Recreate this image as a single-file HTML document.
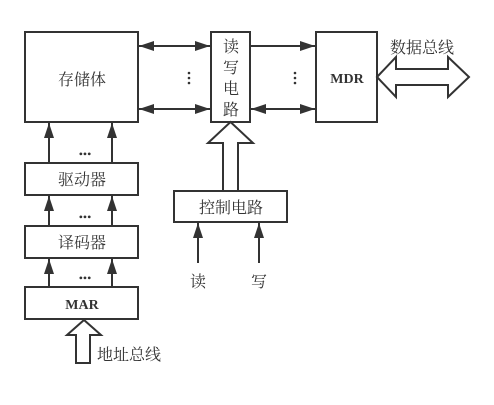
<!DOCTYPE html>
<html><head><meta charset="utf-8"><style>
body{margin:0;background:#fff;}
svg text{font-family:"Liberation Serif","Noto Serif CJK SC",serif;fill:#333;}
</style></head><body>
<svg width="494" height="400" viewBox="0 0 494 400" xmlns="http://www.w3.org/2000/svg">
<defs>
<marker id="a" viewBox="0 0 15 10" refX="15" refY="5" markerWidth="15" markerHeight="10" markerUnits="userSpaceOnUse" orient="auto-start-reverse"><path d="M0,0L15,5L0,10z" fill="#333"/></marker>
</defs>
<g fill="none" stroke="#333" stroke-width="2">
<rect x="25" y="32" width="113" height="90"/>
<rect x="211" y="32" width="39" height="90"/>
<rect x="316" y="32" width="61" height="90"/>
<rect x="25" y="163" width="113" height="32"/>
<rect x="25" y="226" width="113" height="32"/>
<rect x="25" y="287" width="113" height="32"/>
<rect x="174" y="191" width="113" height="31"/>
<line x1="139" y1="46" x2="210" y2="46" marker-start="url(#a)" marker-end="url(#a)"/>
<line x1="139" y1="109" x2="210" y2="109" marker-start="url(#a)" marker-end="url(#a)"/>
<line x1="251" y1="46" x2="315" y2="46" marker-end="url(#a)"/>
<line x1="251" y1="109" x2="315" y2="109" marker-start="url(#a)" marker-end="url(#a)"/>
<line x1="49" y1="163" x2="49" y2="123" marker-end="url(#a)"/>
<line x1="112" y1="163" x2="112" y2="123" marker-end="url(#a)"/>
<line x1="49" y1="226" x2="49" y2="196" marker-end="url(#a)"/>
<line x1="112" y1="226" x2="112" y2="196" marker-end="url(#a)"/>
<line x1="49" y1="287" x2="49" y2="259" marker-end="url(#a)"/>
<line x1="112" y1="287" x2="112" y2="259" marker-end="url(#a)"/>
<line x1="198" y1="263" x2="198" y2="223" marker-end="url(#a)"/>
<line x1="259" y1="263" x2="259" y2="223" marker-end="url(#a)"/>
<path d="M223,191V143H208L230.5,122L253,143H238V191"/>
<path d="M76,363V335H67L84,320L101,335H90V363Z"/>
<path d="M377,77L396,57V69H448V57L469,77L448,97V85H396V97Z"/>
</g>
<g fill="#333">
<circle cx="189" cy="73" r="1.3"/><circle cx="189" cy="78" r="1.3"/><circle cx="189" cy="83" r="1.3"/>
<circle cx="295" cy="73" r="1.3"/><circle cx="295" cy="78" r="1.3"/><circle cx="295" cy="83" r="1.3"/>
</g>
<g font-size="16" text-anchor="middle">
<text x="82" y="85">存储体</text>
<text x="231" y="52">读</text>
<text x="231" y="73">写</text>
<text x="231" y="94">电</text>
<text x="231" y="115">路</text>
<text x="347" y="83" font-weight="bold" font-size="14">MDR</text>
<text x="422" y="53">数据总线</text>
<text x="82" y="185">驱动器</text>
<text x="82" y="248">译码器</text>
<text x="82" y="309" font-weight="bold" font-size="14">MAR</text>
<text x="231" y="213">控制电路</text>
<text x="198" y="287">读</text>
<text x="259" y="287">写</text>
<text x="129" y="360">地址总线</text>
<text x="85" y="158" font-size="12">•••</text>
<text x="85" y="221" font-size="12">•••</text>
<text x="85" y="282" font-size="12">•••</text>
</g>
</svg>
</body></html>
